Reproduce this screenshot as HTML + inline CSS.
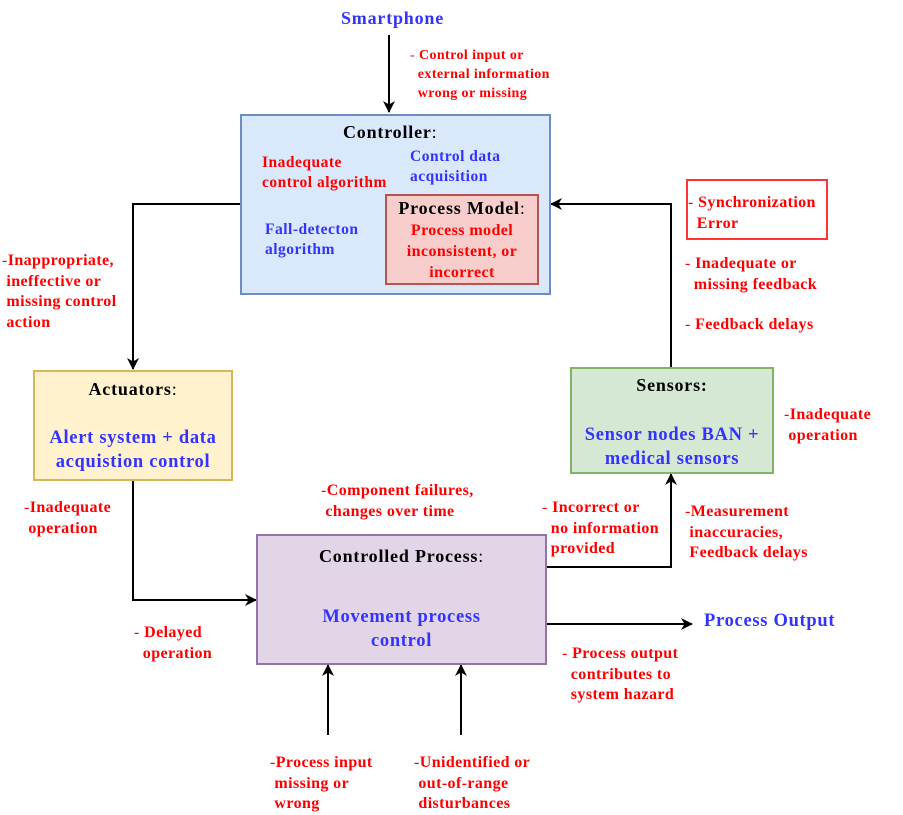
<!DOCTYPE html>
<html><head><meta charset="utf-8"><style>
body{margin:0;width:903px;height:814px;background:#fff;position:relative;overflow:hidden;font-family:"Liberation Serif",serif;font-weight:bold}
.t{position:absolute;white-space:nowrap;font-size:16px;letter-spacing:0.4px;line-height:20.5px;color:#f00}
.h{font-size:18px;letter-spacing:0.8px}
.bb{font-size:18.5px;letter-spacing:0.7px}
.s{font-size:15.5px;letter-spacing:0.5px;line-height:20px}
.b{color:#3333ff}
.k{color:#000}
.box{position:absolute;box-sizing:border-box;border:2px solid}
.c{text-align:center}
i{font-style:normal;font-weight:normal}
</style></head><body>
<svg width="903" height="814" style="position:absolute;left:0;top:0">
<defs><marker id="a" markerWidth="12" markerHeight="12" refX="11" refY="6" orient="auto" markerUnits="userSpaceOnUse"><path d="M0,0 L12,6 L0,12 L3.5,6 z" fill="#000"/></marker></defs>
<g stroke="#000" stroke-width="2" fill="none">
<path d="M389,35 V112" marker-end="url(#a)"/>
<path d="M240,204 H133 V369" marker-end="url(#a)"/>
<path d="M133,480 V600 H256" marker-end="url(#a)"/>
<path d="M546,567 H671 V474" marker-end="url(#a)"/>
<path d="M671,367 V204 H551" marker-end="url(#a)"/>
<path d="M546,624 H692" marker-end="url(#a)"/>
<path d="M328,735 V665" marker-end="url(#a)"/>
<path d="M461,735 V665" marker-end="url(#a)"/>
</g></svg>

<div class="box" style="left:240px;top:114px;width:311px;height:181px;background:#dae8fc;border-color:#6c8ebf"></div>
<div class="box" style="left:385px;top:194px;width:154px;height:91px;background:#f8cecc;border-color:#b85450"></div>
<div class="box" style="left:33px;top:370px;width:200px;height:111px;background:#fff2cc;border-color:#d6b656"></div>
<div class="box" style="left:570px;top:367px;width:204px;height:107px;background:#d5e8d4;border-color:#82b366"></div>
<div class="box" style="left:256px;top:534px;width:291px;height:131px;background:#e1d5e7;border-color:#9673a6"></div>
<div class="box" style="left:686px;top:179px;width:142px;height:61px;background:#fff;border-color:#ff3333"></div>

<div class="t b h" style="left:341px;top:8px">Smartphone</div>
<div class="t" style="left:410px;top:46px;font-size:14px;letter-spacing:0.4px;line-height:19px"><i>-</i> Control input or<br>&nbsp;&nbsp;external information<br>&nbsp;&nbsp;wrong or missing</div>

<div class="t k h" style="left:343px;top:122px">Controller<i>:</i></div>
<div class="t s" style="left:262px;top:153px">Inadequate<br>control algorithm</div>
<div class="t b s" style="left:410px;top:147px">Control data<br>acquisition</div>
<div class="t b s" style="left:265px;top:220px">Fall-detecton<br>algorithm</div>
<div class="t k c h" style="left:385px;top:198px;width:154px">Process Model<i>:</i></div>
<div class="t c" style="left:385px;top:220px;width:154px;line-height:21px">Process model<br>inconsistent, or<br>incorrect</div>

<div class="t" style="left:2px;top:251px"><i>-</i>Inappropriate,<br>&nbsp;ineffective or<br>&nbsp;missing control<br>&nbsp;action</div>

<div class="t k c h" style="left:33px;top:379px;width:200px">Actuators<i>:</i></div>
<div class="t b c bb" style="left:33px;top:426px;width:200px;line-height:24px">Alert system + data<br>acquistion control</div>

<div class="t" style="left:688px;top:193px"><i>-</i> Synchronization<br>&nbsp;&nbsp;Error</div>
<div class="t" style="left:685px;top:254px"><i>-</i> Inadequate or<br>&nbsp;&nbsp;missing feedback</div>
<div class="t" style="left:685px;top:315px"><i>-</i> Feedback delays</div>

<div class="t k c h" style="left:570px;top:375px;width:204px">Sensors:</div>
<div class="t b c bb" style="left:570px;top:423px;width:204px;line-height:24px">Sensor nodes BAN +<br>medical sensors</div>
<div class="t" style="left:784px;top:405px"><i>-</i>Inadequate<br>&nbsp;operation</div>

<div class="t" style="left:24px;top:498px"><i>-</i>Inadequate<br>&nbsp;operation</div>
<div class="t" style="left:321px;top:481px"><i>-</i>Component failures,<br>&nbsp;changes over time</div>
<div class="t" style="left:542px;top:498px"><i>-</i> Incorrect or<br>&nbsp;&nbsp;no information<br>&nbsp;&nbsp;provided</div>
<div class="t" style="left:685px;top:502px"><i>-</i>Measurement<br>&nbsp;inaccuracies,<br>&nbsp;Feedback delays</div>

<div class="t k c h" style="left:256px;top:546px;width:291px">Controlled Process<i>:</i></div>
<div class="t b c bb" style="left:256px;top:605px;width:291px;line-height:24px">Movement process<br>control</div>

<div class="t b bb" style="left:704px;top:611px">Process Output</div>
<div class="t" style="left:134px;top:623px"><i>-</i> Delayed<br>&nbsp;&nbsp;operation</div>
<div class="t" style="left:562px;top:644px"><i>-</i> Process output<br>&nbsp;&nbsp;contributes to<br>&nbsp;&nbsp;system hazard</div>

<div class="t" style="left:270px;top:753px"><i>-</i>Process input<br>&nbsp;missing or<br>&nbsp;wrong</div>
<div class="t" style="left:414px;top:753px"><i>-</i>Unidentified or<br>&nbsp;out-of-range<br>&nbsp;disturbances</div>
</body></html>
